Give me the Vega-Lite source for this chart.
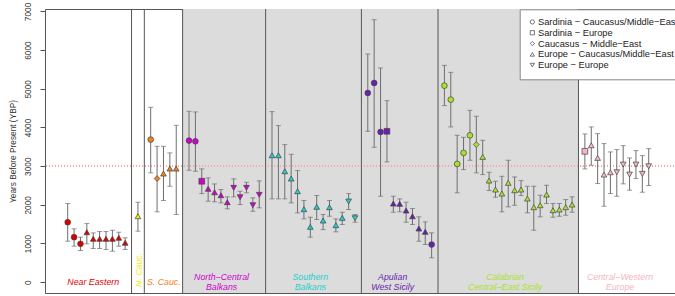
{
  "$schema": "https://vega.github.io/schema/vega-lite/v6.json",
  "width": 632,
  "height": 284,
  "autosize": {"type": "none"},
  "padding": {"left": 45, "top": 9, "right": 0, "bottom": 3},
  "background": "white",
  "config": {
    "view": {"stroke": "#555", "strokeWidth": 1},
    "font": "Liberation Sans",
    "axisY": {"domain": false, "grid": false, "tickColor": "#555", "tickSize": 5, "labelAngle": 270, "labelFont": "Liberation Sans", "labelFontSize": 8.3, "labelColor": "#333", "labelPadding": 8, "titleFont": "Liberation Sans", "titleFontSize": 8.3, "titleFontWeight": "normal", "titleColor": "#333", "titlePadding": 6, "format": "d"},
    "legend": {"orient": "none", "legendX": 474.7, "legendY": 0.3, "fillColor": "white", "strokeColor": "#888", "padding": 8, "labelFont": "Liberation Sans", "labelFontSize": 9.3, "labelColor": "#222", "symbolSize": 18, "symbolStrokeColor": "#555", "symbolFillColor": "white", "symbolStrokeWidth": 0.8, "rowPadding": 0.8, "labelOffset": 1, "labelLimit": 400}
  },
  "data": {"values": [
    {"i": 1, "g": "NE", "t": "Sardinia − Caucasus/Middle−East", "v": 1550, "lo": 1059, "hi": 2033},
    {"i": 2, "g": "NE", "t": "Sardinia − Caucasus/Middle−East", "v": 1163, "lo": 930, "hi": 1379},
    {"i": 3, "g": "NE", "t": "Sardinia − Caucasus/Middle−East", "v": 992, "lo": 819, "hi": 1163},
    {"i": 4, "g": "NE", "t": "Europe − Caucasus/Middle−East", "v": 1292, "lo": 992, "hi": 1516},
    {"i": 5, "g": "NE", "t": "Europe − Caucasus/Middle−East", "v": 1121, "lo": 870, "hi": 1275},
    {"i": 6, "g": "NE", "t": "Europe − Caucasus/Middle−East", "v": 1121, "lo": 870, "hi": 1309},
    {"i": 7, "g": "NE", "t": "Europe − Caucasus/Middle−East", "v": 1121, "lo": 845, "hi": 1309},
    {"i": 8, "g": "NE", "t": "Europe − Caucasus/Middle−East", "v": 1121, "lo": 801, "hi": 1343},
    {"i": 9, "g": "NE", "t": "Europe − Caucasus/Middle−East", "v": 1147, "lo": 930, "hi": 1292},
    {"i": 10, "g": "NE", "t": "Europe − Caucasus/Middle−East", "v": 1018, "lo": 845, "hi": 1147},
    {"i": 12, "g": "NC", "t": "Europe − Caucasus/Middle−East", "v": 1705, "lo": 1318, "hi": 2067},
    {"i": 14, "g": "SC", "t": "Sardinia − Caucasus/Middle−East", "v": 3686, "lo": 2826, "hi": 4521},
    {"i": 15, "g": "SC", "t": "Caucasus − Middle−East", "v": 2679, "lo": 1819, "hi": 3513},
    {"i": 16, "g": "SC", "t": "Europe − Caucasus/Middle−East", "v": 2808, "lo": 2111, "hi": 3513},
    {"i": 17, "g": "SC", "t": "Europe − Caucasus/Middle−East", "v": 2937, "lo": 2480, "hi": 3343},
    {"i": 18, "g": "SC", "t": "Europe − Caucasus/Middle−East", "v": 2937, "lo": 1749, "hi": 4056},
    {"i": 20, "g": "NCB", "t": "Sardinia − Caucasus/Middle−East", "v": 3660, "lo": 2893, "hi": 4418},
    {"i": 21, "g": "NCB", "t": "Sardinia − Caucasus/Middle−East", "v": 3643, "lo": 2868, "hi": 4402},
    {"i": 22, "g": "NCB", "t": "Sardinia − Europe", "v": 2609, "lo": 2291, "hi": 2929},
    {"i": 23, "g": "NCB", "t": "Europe − Caucasus/Middle−East", "v": 2413, "lo": 2093, "hi": 2697},
    {"i": 24, "g": "NCB", "t": "Europe − Caucasus/Middle−East", "v": 2325, "lo": 2077, "hi": 2540},
    {"i": 25, "g": "NCB", "t": "Europe − Caucasus/Middle−East", "v": 2248, "lo": 2051, "hi": 2395},
    {"i": 26, "g": "NCB", "t": "Europe − Caucasus/Middle−East", "v": 2067, "lo": 1896, "hi": 2206},
    {"i": 27, "g": "NCB", "t": "Europe − Europe", "v": 2439, "lo": 2206, "hi": 2671},
    {"i": 28, "g": "NCB", "t": "Europe − Europe", "v": 2196, "lo": 2007, "hi": 2351},
    {"i": 29, "g": "NCB", "t": "Europe − Europe", "v": 2439, "lo": 2309, "hi": 2583},
    {"i": 30, "g": "NCB", "t": "Europe − Europe", "v": 1989, "lo": 1834, "hi": 2180},
    {"i": 31, "g": "NCB", "t": "Europe − Europe", "v": 2258, "lo": 1922, "hi": 2619},
    {"i": 33, "g": "SB", "t": "Europe − Caucasus/Middle−East", "v": 3281, "lo": 2154, "hi": 4410},
    {"i": 34, "g": "SB", "t": "Europe − Caucasus/Middle−East", "v": 3281, "lo": 2154, "hi": 4048},
    {"i": 35, "g": "SB", "t": "Europe − Caucasus/Middle−East", "v": 2868, "lo": 2154, "hi": 3557},
    {"i": 36, "g": "SB", "t": "Europe − Caucasus/Middle−East", "v": 2679, "lo": 2051, "hi": 3307},
    {"i": 37, "g": "SB", "t": "Europe − Caucasus/Middle−East", "v": 2351, "lo": 1792, "hi": 2886},
    {"i": 38, "g": "SB", "t": "Europe − Caucasus/Middle−East", "v": 1886, "lo": 1637, "hi": 2111},
    {"i": 39, "g": "SB", "t": "Europe − Caucasus/Middle−East", "v": 1431, "lo": 1163, "hi": 1679},
    {"i": 40, "g": "SB", "t": "Europe − Caucasus/Middle−East", "v": 1948, "lo": 1620, "hi": 2240},
    {"i": 41, "g": "SB", "t": "Europe − Caucasus/Middle−East", "v": 1594, "lo": 1361, "hi": 1749},
    {"i": 42, "g": "SB", "t": "Europe − Caucasus/Middle−East", "v": 1938, "lo": 1705, "hi": 2111},
    {"i": 43, "g": "SB", "t": "Europe − Caucasus/Middle−East", "v": 1473, "lo": 1302, "hi": 1637},
    {"i": 44, "g": "SB", "t": "Europe − Caucasus/Middle−East", "v": 1663, "lo": 1491, "hi": 1808},
    {"i": 45, "g": "SB", "t": "Europe − Europe", "v": 2085, "lo": 1878, "hi": 2291},
    {"i": 46, "g": "SB", "t": "Europe − Europe", "v": 1653, "lo": 1550, "hi": 1749},
    {"i": 48, "g": "AP", "t": "Sardinia − Caucasus/Middle−East", "v": 4892, "lo": 3901, "hi": 5899},
    {"i": 49, "g": "AP", "t": "Sardinia − Caucasus/Middle−East", "v": 5151, "lo": 3488, "hi": 6786},
    {"i": 50, "g": "AP", "t": "Sardinia − Caucasus/Middle−East", "v": 3884, "lo": 2222, "hi": 5538},
    {"i": 51, "g": "AP", "t": "Sardinia − Europe", "v": 3901, "lo": 3110, "hi": 4694},
    {"i": 52, "g": "AP", "t": "Europe − Caucasus/Middle−East", "v": 2033, "lo": 1808, "hi": 2222},
    {"i": 53, "g": "AP", "t": "Europe − Caucasus/Middle−East", "v": 2025, "lo": 1819, "hi": 2154},
    {"i": 54, "g": "AP", "t": "Europe − Caucasus/Middle−East", "v": 1852, "lo": 1550, "hi": 2067},
    {"i": 55, "g": "AP", "t": "Europe − Caucasus/Middle−East", "v": 1705, "lo": 1491, "hi": 1904},
    {"i": 56, "g": "AP", "t": "Europe − Caucasus/Middle−East", "v": 1387, "lo": 1059, "hi": 1688},
    {"i": 57, "g": "AP", "t": "Europe − Caucasus/Middle−East", "v": 1302, "lo": 974, "hi": 1560},
    {"i": 58, "g": "AP", "t": "Sardinia − Caucasus/Middle−East", "v": 974, "lo": 630, "hi": 1276},
    {"i": 60, "g": "CA", "t": "Sardinia − Caucasus/Middle−East", "v": 5081, "lo": 4565, "hi": 5606},
    {"i": 61, "g": "CA", "t": "Sardinia − Caucasus/Middle−East", "v": 4720, "lo": 4014, "hi": 5425},
    {"i": 62, "g": "CA", "t": "Sardinia − Caucasus/Middle−East", "v": 3058, "lo": 2310, "hi": 3797},
    {"i": 63, "g": "CA", "t": "Sardinia − Caucasus/Middle−East", "v": 3343, "lo": 2911, "hi": 3746},
    {"i": 64, "g": "CA", "t": "Sardinia − Caucasus/Middle−East", "v": 3797, "lo": 3152, "hi": 4443},
    {"i": 65, "g": "CA", "t": "Caucasus − Middle−East", "v": 3557, "lo": 2826, "hi": 4289},
    {"i": 66, "g": "CA", "t": "Europe − Caucasus/Middle−East", "v": 3239, "lo": 2782, "hi": 3668},
    {"i": 67, "g": "CA", "t": "Europe − Caucasus/Middle−East", "v": 2627, "lo": 2369, "hi": 2842},
    {"i": 68, "g": "CA", "t": "Europe − Caucasus/Middle−East", "v": 2395, "lo": 2196, "hi": 2609},
    {"i": 69, "g": "CA", "t": "Europe − Caucasus/Middle−East", "v": 2291, "lo": 1819, "hi": 2738},
    {"i": 70, "g": "CA", "t": "Europe − Caucasus/Middle−East", "v": 2568, "lo": 1948, "hi": 3152},
    {"i": 71, "g": "CA", "t": "Europe − Caucasus/Middle−East", "v": 2377, "lo": 1989, "hi": 2721},
    {"i": 72, "g": "CA", "t": "Europe − Caucasus/Middle−East", "v": 2395, "lo": 2240, "hi": 2627},
    {"i": 73, "g": "CA", "t": "Europe − Caucasus/Middle−East", "v": 2162, "lo": 1793, "hi": 2480},
    {"i": 74, "g": "CA", "t": "Europe − Caucasus/Middle−East", "v": 1938, "lo": 1343, "hi": 2480},
    {"i": 75, "g": "CA", "t": "Europe − Caucasus/Middle−East", "v": 1989, "lo": 1689, "hi": 2248},
    {"i": 76, "g": "CA", "t": "Europe − Caucasus/Middle−East", "v": 2265, "lo": 2033, "hi": 2506},
    {"i": 77, "g": "CA", "t": "Europe − Caucasus/Middle−East", "v": 1860, "lo": 1679, "hi": 2033},
    {"i": 78, "g": "CA", "t": "Europe − Caucasus/Middle−East", "v": 1878, "lo": 1705, "hi": 2033},
    {"i": 79, "g": "CA", "t": "Europe − Caucasus/Middle−East", "v": 1938, "lo": 1731, "hi": 2136},
    {"i": 80, "g": "CA", "t": "Europe − Caucasus/Middle−East", "v": 2007, "lo": 1808, "hi": 2206},
    {"i": 82, "g": "CW", "t": "Sardinia − Europe", "v": 3384, "lo": 2929, "hi": 3833},
    {"i": 83, "g": "CW", "t": "Europe − Caucasus/Middle−East", "v": 3539, "lo": 3023, "hi": 4014},
    {"i": 84, "g": "CW", "t": "Europe − Caucasus/Middle−East", "v": 3213, "lo": 2550, "hi": 3841},
    {"i": 85, "g": "CW", "t": "Europe − Caucasus/Middle−East", "v": 2782, "lo": 1963, "hi": 3583},
    {"i": 86, "g": "CW", "t": "Europe − Caucasus/Middle−East", "v": 2842, "lo": 2291, "hi": 3368},
    {"i": 87, "g": "CW", "t": "Europe − Europe", "v": 2842, "lo": 2222, "hi": 3428},
    {"i": 88, "g": "CW", "t": "Europe − Europe", "v": 3040, "lo": 2542, "hi": 3531},
    {"i": 89, "g": "CW", "t": "Europe − Europe", "v": 2782, "lo": 2377, "hi": 3213},
    {"i": 90, "g": "CW", "t": "Europe − Europe", "v": 3040, "lo": 2679, "hi": 3402},
    {"i": 91, "g": "CW", "t": "Europe − Europe", "v": 2800, "lo": 2325, "hi": 3273},
    {"i": 92, "g": "CW", "t": "Europe − Europe", "v": 2997, "lo": 2498, "hi": 3454}
  ]},
  "layer": [
    {
      "data": {"values": [{"a": 19, "b": 81}]},
      "mark": {"type": "rect", "fill": "#DCDCDC", "stroke": null},
      "encoding": {
        "x": {"field": "a", "type": "quantitative", "scale": {"domain": [-2.555, 96.43], "nice": false, "zero": false}, "axis": null},
        "x2": {"field": "b"}
      }
    },
    {
      "mark": {"type": "rule", "color": "#F4AAAA", "strokeDash": [1, 2], "strokeWidth": 0.9},
      "encoding": {
        "y": {"datum": 3000, "type": "quantitative", "title": "Years Before Present (YBP)"}
      }
    },
    {
      "data": {"values": [{"s": 11}, {"s": 13}, {"s": 19}, {"s": 32}, {"s": 47}, {"s": 59}, {"s": 81}]},
      "mark": {"type": "rule", "color": "#555", "strokeWidth": 1},
      "encoding": {
        "x": {"field": "s", "type": "quantitative", "axis": null}
      }
    },
    {
      "mark": {"type": "rule", "color": "#6E6E6E", "strokeWidth": 1},
      "encoding": {
        "x": {"field": "i", "type": "quantitative", "axis": null},
        "y": {"field": "lo", "type": "quantitative", "title": "Years Before Present (YBP)", "scale": {"domain": [-280, 7063], "nice": false, "zero": false}, "axis": {"values": [0, 1000, 2000, 3000, 4000, 5000, 6000, 7000]}},
        "y2": {"field": "hi"}
      }
    },
    {
      "mark": {"type": "tick", "orient": "horizontal", "color": "#6E6E6E", "size": 5, "thickness": 1},
      "encoding": {
        "x": {"field": "i", "type": "quantitative", "axis": null},
        "y": {"field": "lo", "type": "quantitative", "title": "Years Before Present (YBP)"}
      }
    },
    {
      "mark": {"type": "tick", "orient": "horizontal", "color": "#6E6E6E", "size": 5, "thickness": 1},
      "encoding": {
        "x": {"field": "i", "type": "quantitative", "axis": null},
        "y": {"field": "hi", "type": "quantitative", "title": "Years Before Present (YBP)"}
      }
    },
    {
      "mark": {"type": "point", "filled": true, "stroke": "#444", "strokeWidth": 0.7, "opacity": 1, "size": 33},
      "encoding": {
        "x": {"field": "i", "type": "quantitative", "axis": null},
        "y": {"field": "v", "type": "quantitative", "title": "Years Before Present (YBP)"},
        "shape": {"field": "t", "type": "nominal", "title": null, "scale": {"domain": ["Sardinia − Caucasus/Middle−East", "Sardinia − Europe", "Caucasus − Middle−East", "Europe − Caucasus/Middle−East", "Europe − Europe"], "range": ["circle", "square", "diamond", "triangle-up", "triangle-down"]}},
        "fill": {"field": "g", "type": "nominal", "legend": null, "scale": {"domain": ["NE", "NC", "SC", "NCB", "SB", "AP", "CA", "CW"], "range": ["#DD0000", "#EEEE00", "#F0821E", "#D000D0", "#1FCFCF", "#6A1FB0", "#A9E22A", "#F5B5C5"]}}
      }
    },
    {
      "data": {"values": [
        {"g": "NE", "label": "Near Eastern", "x": 5.0},
        {"g": "SC", "label": "S. Cauc.", "x": 16.05}
      ]},
      "mark": {"type": "text", "fontStyle": "italic", "fontSize": 8.8, "align": "center", "baseline": "middle"},
      "encoding": {
        "x": {"field": "x", "type": "quantitative", "axis": null},
        "y": {"datum": 5, "type": "quantitative", "title": "Years Before Present (YBP)"},
        "text": {"field": "label"},
        "fill": {"field": "g", "type": "nominal", "legend": null}
      }
    },
    {
      "data": {"values": [
        {"g": "NCB", "label": "North−Central\nBalkans", "x": 25.1},
        {"g": "SB", "label": "Southern\nBalkans", "x": 39},
        {"g": "AP", "label": "Apulian\nWest Sicily", "x": 51.9},
        {"g": "CA", "label": "Calabrian\nCentral−East Sicily", "x": 69.5},
        {"g": "CW", "label": "Central−Western\nEurope", "x": 87.5}
      ]},
      "mark": {"type": "text", "fontStyle": "italic", "fontSize": 8.8, "align": "center", "baseline": "middle", "lineBreak": "\n", "lineHeight": 10.4},
      "encoding": {
        "x": {"field": "x", "type": "quantitative", "axis": null},
        "y": {"datum": 142, "type": "quantitative", "title": "Years Before Present (YBP)"},
        "text": {"field": "label"},
        "fill": {"field": "g", "type": "nominal", "legend": null}
      }
    },
    {
      "data": {"values": [{"g": "NC", "label": "N. Cauc.", "x": 12.2}]},
      "mark": {"type": "text", "fontStyle": "italic", "fontSize": 8.8, "align": "center", "baseline": "middle", "angle": 270},
      "encoding": {
        "x": {"field": "x", "type": "quantitative", "axis": null},
        "y": {"datum": 315, "type": "quantitative", "title": "Years Before Present (YBP)"},
        "text": {"field": "label"},
        "fill": {"field": "g", "type": "nominal", "legend": null}
      }
    }
  ]
}
